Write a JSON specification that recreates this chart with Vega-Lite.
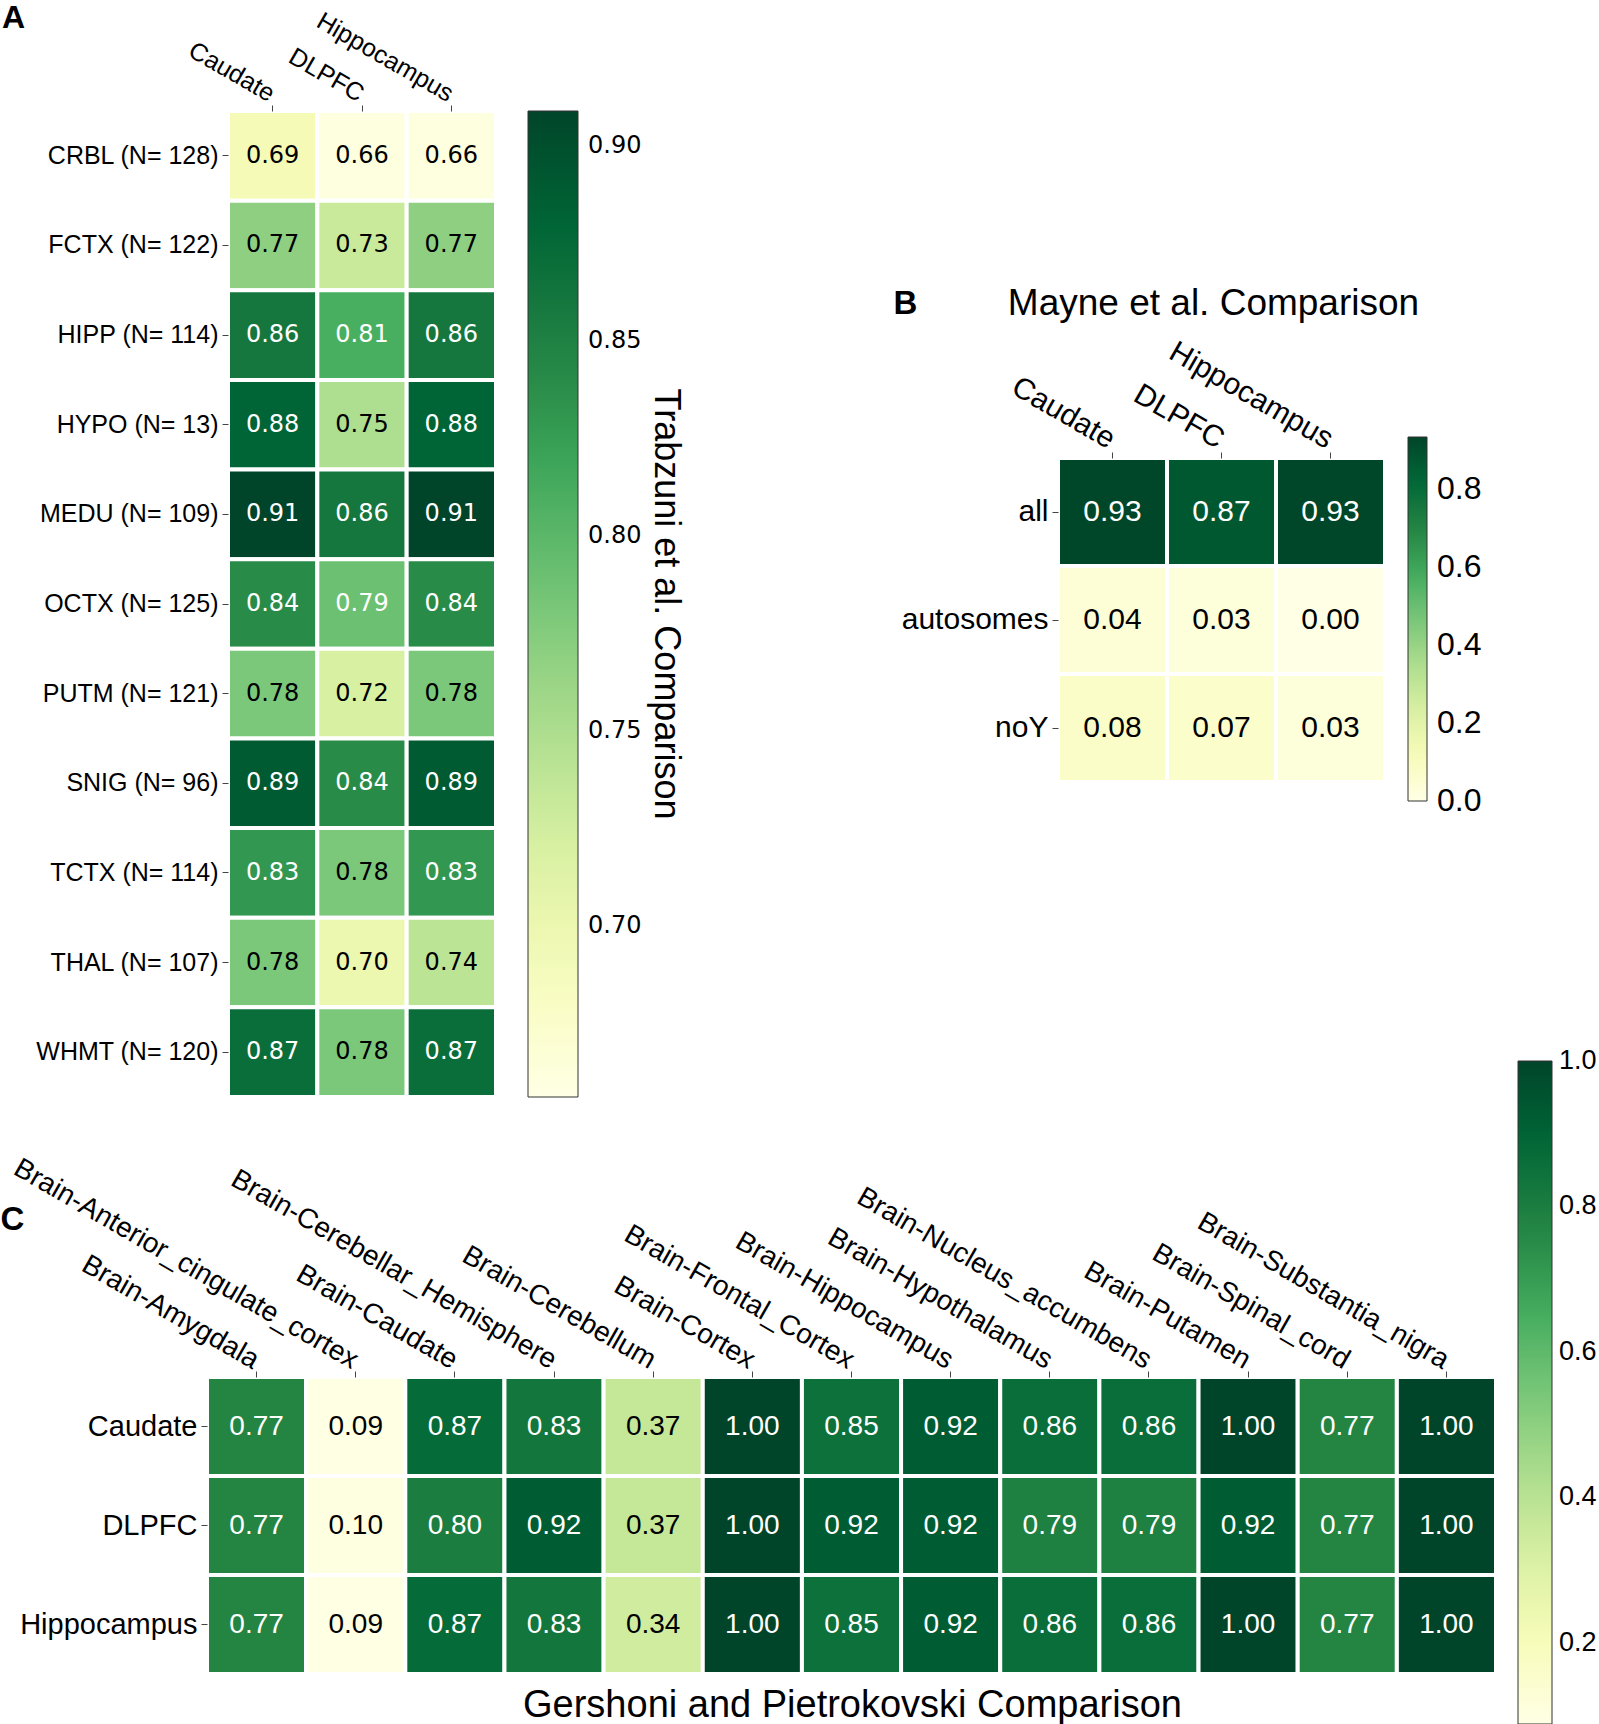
{
  "$schema": "https://vega.github.io/schema/vega-lite/v6.json",
  "width": 1599,
  "height": 1724,
  "autosize": "none",
  "padding": 0,
  "background": "white",
  "config": {
    "view": {"stroke": null},
    "font": "Liberation Sans",
    "axis": {"domain": false, "grid": false, "labelColor": "black", "tickColor": "#444", "tickSize": 6, "labelOverlap": false, "labelLimit": 1000, "titleColor": "black", "titleLimit": 2000, "labelFont": "Liberation Sans", "titleFont": "Liberation Sans"},
    "legend": {"labelColor": "black", "titleColor": "black", "padding": 0, "labelOverlap": false, "labelLimit": 1000, "titleLimit": 2000}
  },
  "datasets": {
    "a": [
      {"row": "CRBL (N= 128)", "col": "Caudate", "v": 0.69}, {"row": "CRBL (N= 128)", "col": "DLPFC", "v": 0.66}, {"row": "CRBL (N= 128)", "col": "Hippocampus", "v": 0.66},
      {"row": "FCTX (N= 122)", "col": "Caudate", "v": 0.77}, {"row": "FCTX (N= 122)", "col": "DLPFC", "v": 0.73}, {"row": "FCTX (N= 122)", "col": "Hippocampus", "v": 0.77},
      {"row": "HIPP (N= 114)", "col": "Caudate", "v": 0.86}, {"row": "HIPP (N= 114)", "col": "DLPFC", "v": 0.81}, {"row": "HIPP (N= 114)", "col": "Hippocampus", "v": 0.86},
      {"row": "HYPO (N= 13)", "col": "Caudate", "v": 0.88}, {"row": "HYPO (N= 13)", "col": "DLPFC", "v": 0.75}, {"row": "HYPO (N= 13)", "col": "Hippocampus", "v": 0.88},
      {"row": "MEDU (N= 109)", "col": "Caudate", "v": 0.91}, {"row": "MEDU (N= 109)", "col": "DLPFC", "v": 0.86}, {"row": "MEDU (N= 109)", "col": "Hippocampus", "v": 0.91},
      {"row": "OCTX (N= 125)", "col": "Caudate", "v": 0.84}, {"row": "OCTX (N= 125)", "col": "DLPFC", "v": 0.79}, {"row": "OCTX (N= 125)", "col": "Hippocampus", "v": 0.84},
      {"row": "PUTM (N= 121)", "col": "Caudate", "v": 0.78}, {"row": "PUTM (N= 121)", "col": "DLPFC", "v": 0.72}, {"row": "PUTM (N= 121)", "col": "Hippocampus", "v": 0.78},
      {"row": "SNIG (N= 96)", "col": "Caudate", "v": 0.89}, {"row": "SNIG (N= 96)", "col": "DLPFC", "v": 0.84}, {"row": "SNIG (N= 96)", "col": "Hippocampus", "v": 0.89},
      {"row": "TCTX (N= 114)", "col": "Caudate", "v": 0.83}, {"row": "TCTX (N= 114)", "col": "DLPFC", "v": 0.78}, {"row": "TCTX (N= 114)", "col": "Hippocampus", "v": 0.83},
      {"row": "THAL (N= 107)", "col": "Caudate", "v": 0.78}, {"row": "THAL (N= 107)", "col": "DLPFC", "v": 0.70}, {"row": "THAL (N= 107)", "col": "Hippocampus", "v": 0.74},
      {"row": "WHMT (N= 120)", "col": "Caudate", "v": 0.87}, {"row": "WHMT (N= 120)", "col": "DLPFC", "v": 0.78}, {"row": "WHMT (N= 120)", "col": "Hippocampus", "v": 0.87}
    ],
    "b": [
      {"row": "all", "col": "Caudate", "v": 0.93}, {"row": "all", "col": "DLPFC", "v": 0.87}, {"row": "all", "col": "Hippocampus", "v": 0.93},
      {"row": "autosomes", "col": "Caudate", "v": 0.04}, {"row": "autosomes", "col": "DLPFC", "v": 0.03}, {"row": "autosomes", "col": "Hippocampus", "v": 0.00},
      {"row": "noY", "col": "Caudate", "v": 0.08}, {"row": "noY", "col": "DLPFC", "v": 0.07}, {"row": "noY", "col": "Hippocampus", "v": 0.03}
    ],
    "c": [
      {"row": "Caudate", "col": "Brain-Amygdala", "v": 0.77}, {"row": "Caudate", "col": "Brain-Anterior_cingulate_cortex", "v": 0.09}, {"row": "Caudate", "col": "Brain-Caudate", "v": 0.87}, {"row": "Caudate", "col": "Brain-Cerebellar_Hemisphere", "v": 0.83}, {"row": "Caudate", "col": "Brain-Cerebellum", "v": 0.37}, {"row": "Caudate", "col": "Brain-Cortex", "v": 1.00}, {"row": "Caudate", "col": "Brain-Frontal_Cortex", "v": 0.85}, {"row": "Caudate", "col": "Brain-Hippocampus", "v": 0.92}, {"row": "Caudate", "col": "Brain-Hypothalamus", "v": 0.86}, {"row": "Caudate", "col": "Brain-Nucleus_accumbens", "v": 0.86}, {"row": "Caudate", "col": "Brain-Putamen", "v": 1.00}, {"row": "Caudate", "col": "Brain-Spinal_cord", "v": 0.77}, {"row": "Caudate", "col": "Brain-Substantia_nigra", "v": 1.00},
      {"row": "DLPFC", "col": "Brain-Amygdala", "v": 0.77}, {"row": "DLPFC", "col": "Brain-Anterior_cingulate_cortex", "v": 0.10}, {"row": "DLPFC", "col": "Brain-Caudate", "v": 0.80}, {"row": "DLPFC", "col": "Brain-Cerebellar_Hemisphere", "v": 0.92}, {"row": "DLPFC", "col": "Brain-Cerebellum", "v": 0.37}, {"row": "DLPFC", "col": "Brain-Cortex", "v": 1.00}, {"row": "DLPFC", "col": "Brain-Frontal_Cortex", "v": 0.92}, {"row": "DLPFC", "col": "Brain-Hippocampus", "v": 0.92}, {"row": "DLPFC", "col": "Brain-Hypothalamus", "v": 0.79}, {"row": "DLPFC", "col": "Brain-Nucleus_accumbens", "v": 0.79}, {"row": "DLPFC", "col": "Brain-Putamen", "v": 0.92}, {"row": "DLPFC", "col": "Brain-Spinal_cord", "v": 0.77}, {"row": "DLPFC", "col": "Brain-Substantia_nigra", "v": 1.00},
      {"row": "Hippocampus", "col": "Brain-Amygdala", "v": 0.77}, {"row": "Hippocampus", "col": "Brain-Anterior_cingulate_cortex", "v": 0.09}, {"row": "Hippocampus", "col": "Brain-Caudate", "v": 0.87}, {"row": "Hippocampus", "col": "Brain-Cerebellar_Hemisphere", "v": 0.83}, {"row": "Hippocampus", "col": "Brain-Cerebellum", "v": 0.34}, {"row": "Hippocampus", "col": "Brain-Cortex", "v": 1.00}, {"row": "Hippocampus", "col": "Brain-Frontal_Cortex", "v": 0.85}, {"row": "Hippocampus", "col": "Brain-Hippocampus", "v": 0.92}, {"row": "Hippocampus", "col": "Brain-Hypothalamus", "v": 0.86}, {"row": "Hippocampus", "col": "Brain-Nucleus_accumbens", "v": 0.86}, {"row": "Hippocampus", "col": "Brain-Putamen", "v": 1.00}, {"row": "Hippocampus", "col": "Brain-Spinal_cord", "v": 0.77}, {"row": "Hippocampus", "col": "Brain-Substantia_nigra", "v": 1.00}
    ]
  },
  "layer": [
    {
      "data": {"name": "a"},
      "layer": [
        {
          "mark": {"type": "rect", "stroke": "white", "strokeWidth": 4},
          "encoding": {
            "x": {"field": "col", "type": "nominal", "scale": {"type": "band", "range": [228, 496], "paddingInner": 0, "paddingOuter": 0},
              "axis": {"orient": "top", "offset": -111, "title": null, "labelAngle": 30, "labelAlign": "right", "labelBaseline": "middle", "labelFontSize": 25, "labelPadding": 10}},
            "y": {"field": "row", "type": "nominal", "scale": {"type": "band", "range": [111, 1097], "paddingInner": 0, "paddingOuter": 0},
              "axis": {"orient": "left", "offset": -228, "labelFontSize": 25, "labelPadding": 4, "labelAngle": 0,
                "title": "A", "titleAngle": 0, "titleX": -215, "titleY": 17, "titleAlign": "center", "titleBaseline": "middle", "titleFontSize": 32, "titleFontWeight": "bold"}},
            "color": {"field": "v", "type": "quantitative",
              "scale": {"domain": [0.656, 0.687625, 0.71925, 0.750875, 0.7825, 0.814125, 0.84575, 0.877375, 0.909], "range": ["#ffffe5", "#f7fcb9", "#d9f0a3", "#addd8e", "#78c679", "#41ab5d", "#238443", "#006837", "#004529"]},
              "legend": {"orient": "none", "legendX": 528, "legendY": 111, "direction": "vertical", "gradientLength": 986, "gradientThickness": 50, "gradientStrokeColor": "#333", "gradientStrokeWidth": 1,
                "values": [0.7, 0.75, 0.8, 0.85, 0.9], "format": ".2f", "labelFont": "DejaVu Sans", "labelFontSize": 24, "labelOffset": 10, "labelBaseline": "middle",
                "encode": {"labels": {"update": {"baseline": {"value": "middle"}}}},
                "title": "Trabzuni et al. Comparison", "titleOrient": "right", "titleAngle": 90, "titleAnchor": "middle", "titleBaseline": "bottom", "titleFontSize": 36, "titleFontWeight": "normal", "titlePadding": 6}}
          }
        },
        {
          "mark": {"type": "text", "font": "DejaVu Sans", "fontSize": 24},
          "encoding": {
            "x": {"field": "col", "type": "nominal", "scale": {"type": "band"}},
            "y": {"field": "row", "type": "nominal", "scale": {"type": "band"}},
            "text": {"field": "v", "type": "quantitative", "format": ".2f"},
            "fill": {"condition": {"test": "datum.v > 0.785", "value": "white"}, "value": "black"}
          }
        }
      ]
    },
    {
      "data": {"name": "b"},
      "layer": [
        {
          "mark": {"type": "rect", "stroke": "white", "strokeWidth": 4},
          "encoding": {
            "x": {"field": "col", "type": "nominal", "scale": {"type": "band", "range": [1058, 1385], "paddingInner": 0, "paddingOuter": 0},
              "axis": {"orient": "top", "offset": -458, "labelAngle": 30, "labelAlign": "right", "labelBaseline": "middle", "labelFontSize": 30, "labelPadding": 11,
                "title": "Mayne et al. Comparison", "titleAngle": 0, "titleX": 1213, "titleY": -155, "titleAlign": "center", "titleBaseline": "middle", "titleFontSize": 37, "titleFontWeight": "normal"}},
            "y": {"field": "row", "type": "nominal", "scale": {"type": "band", "range": [458, 782], "paddingInner": 0, "paddingOuter": 0},
              "axis": {"orient": "left", "offset": -1058, "labelFontSize": 30, "labelPadding": 4, "labelAngle": 0,
                "title": "B", "titleAngle": 0, "titleX": -153, "titleY": 303, "titleAlign": "center", "titleBaseline": "middle", "titleFontSize": 33, "titleFontWeight": "bold"}},
            "color": {"field": "v", "type": "quantitative",
              "scale": {"domain": [0, 0.116625, 0.23325, 0.349875, 0.4665, 0.583125, 0.69975, 0.816375, 0.933], "range": ["#ffffe5", "#f7fcb9", "#d9f0a3", "#addd8e", "#78c679", "#41ab5d", "#238443", "#006837", "#004529"]},
              "legend": {"orient": "none", "legendX": 1408, "legendY": 437, "direction": "vertical", "gradientLength": 364, "gradientThickness": 19, "gradientStrokeColor": "#333", "gradientStrokeWidth": 1,
                "values": [0, 0.2, 0.4, 0.6, 0.8], "format": ".1f", "labelFontSize": 32, "labelOffset": 10, "labelBaseline": "middle",
                "encode": {"labels": {"update": {"baseline": {"value": "middle"}}}},
                "title": null}}
          }
        },
        {
          "mark": {"type": "text", "fontSize": 30},
          "encoding": {
            "x": {"field": "col", "type": "nominal", "scale": {"type": "band"}},
            "y": {"field": "row", "type": "nominal", "scale": {"type": "band"}},
            "text": {"field": "v", "type": "quantitative", "format": ".2f"},
            "fill": {"condition": {"test": "datum.v > 0.5", "value": "white"}, "value": "black"}
          }
        }
      ]
    },
    {
      "data": {"name": "c"},
      "layer": [
        {
          "mark": {"type": "rect", "stroke": "white", "strokeWidth": 4},
          "encoding": {
            "x": {"field": "col", "type": "nominal", "scale": {"type": "band", "range": [207, 1496], "paddingInner": 0, "paddingOuter": 0},
              "axis": {"orient": "top", "offset": -1377, "labelAngle": 30, "labelAlign": "right", "labelBaseline": "middle", "labelFontSize": 28, "labelPadding": 9,
                "title": "Gershoni and Pietrokovski Comparison", "titleAngle": 0, "titleX": 852, "titleY": 328, "titleAlign": "center", "titleBaseline": "middle", "titleFontSize": 38, "titleFontWeight": "normal"}},
            "y": {"field": "row", "type": "nominal", "scale": {"type": "band", "range": [1377, 1674], "paddingInner": 0, "paddingOuter": 0},
              "axis": {"orient": "left", "offset": -207, "labelFontSize": 29, "labelPadding": 4, "labelAngle": 0,
                "title": "C", "titleAngle": 0, "titleX": -195, "titleY": 1219, "titleAlign": "center", "titleBaseline": "middle", "titleFontSize": 33, "titleFontWeight": "bold"}},
            "color": {"field": "v", "type": "quantitative",
              "scale": {"domain": [0.088, 0.202, 0.316, 0.43, 0.544, 0.658, 0.772, 0.886, 1.0], "range": ["#ffffe5", "#f7fcb9", "#d9f0a3", "#addd8e", "#78c679", "#41ab5d", "#238443", "#006837", "#004529"]},
              "legend": {"orient": "none", "legendX": 1518, "legendY": 1061, "direction": "vertical", "gradientLength": 663, "gradientThickness": 34, "gradientStrokeColor": "#333", "gradientStrokeWidth": 1,
                "values": [0.2, 0.4, 0.6, 0.8, 1.0], "format": ".1f", "labelFontSize": 27, "labelOffset": 7, "labelBaseline": "middle",
                "encode": {"labels": {"update": {"baseline": {"value": "middle"}}}},
                "title": null}}
          }
        },
        {
          "mark": {"type": "text", "fontSize": 28},
          "encoding": {
            "x": {"field": "col", "type": "nominal", "scale": {"type": "band"}},
            "y": {"field": "row", "type": "nominal", "scale": {"type": "band"}},
            "text": {"field": "v", "type": "quantitative", "format": ".2f"},
            "fill": {"condition": {"test": "datum.v > 0.5", "value": "white"}, "value": "black"}
          }
        }
      ]
    }
  ],
  "resolve": {
    "scale": {"x": "independent", "y": "independent", "color": "independent"},
    "axis": {"x": "independent", "y": "independent"},
    "legend": {"color": "independent"}
  }
}
